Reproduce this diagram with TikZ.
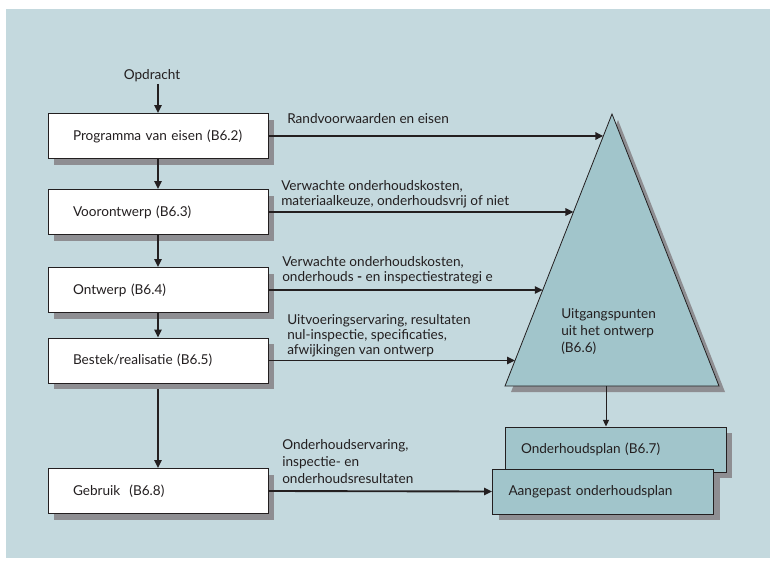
\documentclass[tikz,border=0pt]{standalone}
\usepackage{fontspec}
\setmainfont{Lato}
\usetikzlibrary{arrows.meta,shadows,intersections,calc}
\definecolor{bgc}{HTML}{C4D9DE}
\definecolor{tric}{HTML}{A1C5CB}
\definecolor{shc}{HTML}{8E8E92}
\definecolor{linec}{HTML}{231F20}
\begin{document}
\begin{tikzpicture}[x=0.75pt,y=-0.75pt,
  every node/.style={font=\fontsize{10.2}{11.25}\selectfont, text=linec},
  box/.style={draw=linec, line width=0.7pt, fill=white, minimum width=165pt, minimum height=33.75pt,
    inner xsep=18.75pt, text width=127.5pt, align=left,
    drop shadow={shadow xshift=4.5pt, shadow yshift=-4.5pt, fill=shc, opacity=1}},
  pbox/.style={box, fill=tric, inner xsep=12pt, text width=141.75pt},
  lab/.style={anchor=west, align=left, inner sep=0pt},
  arr/.style={line width=1.4pt, draw=linec, -{Triangle[length=6pt,width=5.5pt]}},
  tarr/.style={line width=0.7pt, draw=linec, -{Triangle[length=5pt,width=4.5pt]}}]
\useasboundingbox (0,0) rectangle (770,560);
\fill[bgc] (6,9) rectangle (770,558);

% left chain
\node[inner sep=1pt] (opd) at (152,76) {Opdracht};
\node[box] (b1) at (158,136) {Programma van eisen (B6.2)};
\node[box] (b2) at (158,212) {Voorontwerp (B6.3)};
\node[box] (b3) at (158,290) {Ontwerp (B6.4)};
\node[box] (b4) at (158,360.5) {Bestek/realisatie (B6.5)};
\node[box] (b5) at (158,491) {Gebruik\ \ (B6.8)};

\draw[arr] (opd.south -| b1.north) -- (b1.north);
\draw[arr] (b1.south) -- (b2.north);
\draw[arr] (b2.south) -- (b3.north);
\draw[arr] (b3.south) -- (b4.north);
\draw[arr] ([yshift=-4.5pt]b4.south) -- (b5.north);

% triangle
\coordinate (A) at (612,114);
\coordinate (BL) at (505,386);
\coordinate (BR) at (719,386);
\fill[shc] ([shift={(6,6)}]A) -- ([shift={(6,6)}]BL) -- ([shift={(6,6)}]BR) -- cycle;
\filldraw[fill=tric, draw=linec, line width=0.6pt] (A) -- (BL) -- (BR) -- cycle;
\node[anchor=west, align=left, inner sep=0pt, font=\fontsize{10.2}{12.75}\selectfont] (tri) at (561,332) {Uitgangspunten\\uit het ontwerp\\(B6.6)};
\coordinate (BM) at (606,386);

% right boxes
\node[pbox] (op) at (615.5,449.5) {Onderhoudsplan (B6.7)};
\node[pbox] (ap) at (603,491.5) {Aangepast onderhoudsplan};
\draw[tarr] (BM) -- (op.north -| BM);

% arrows into triangle
\path[name path=tedge] (A) -- (BL);
\foreach \i in {1,2,3,4}{
  \path[name path=h\i] (b\i.east) -- ++(400,0);
  \path[name intersections={of=tedge and h\i, by=e\i}];
  \draw[arr] (b\i.east) -- (e\i);
}
\draw[arr] (b5.east) -- (ap.west);

% labels
\node[lab] (l1) at (287,119) {Randvoorwaarden en eisen};
\node[lab] (l2) at (281,194) {Verwachte onderhoudskosten,\\materiaalkeuze, onderhoudsvrij of niet};
\node[lab] (l3) at (282,270.5) {Verwachte onderhoudskosten,\\onderhouds \textbf{-} en inspectiestrategi e};
\node[lab] (l4) at (287,336) {Uitvoeringservaring, resultaten\\nul-inspectie, specificaties,\\afwijkingen van ontwerp};
\node[lab, font=\fontsize{10.2}{12.75}\selectfont] (l5) at (282,462) {Onderhoudservaring,\\inspectie- en\\onderhoudsresultaten};
\end{tikzpicture}
\end{document}
